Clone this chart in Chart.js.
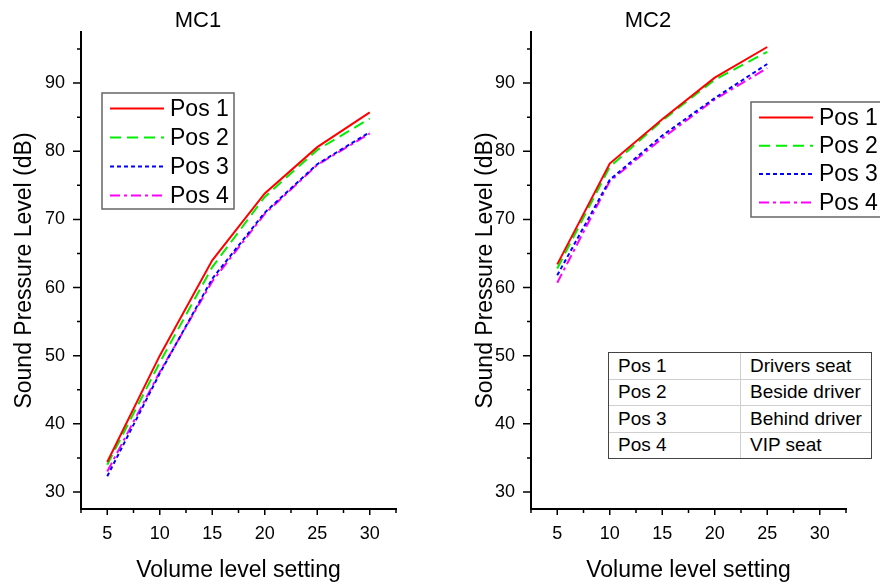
<!DOCTYPE html>
<html>
<head>
<meta charset="utf-8">
<title>Sound pressure level vs volume setting</title>
<script src="https://cdn.jsdelivr.net/npm/chart.js@4.4.1/dist/chart.umd.min.js"></script>
<style>
  body { margin: 0; background: #fff; }
  #wrap { position: relative; width: 880px; height: 584px; overflow: hidden; }
  canvas { position: absolute; top: 0; }
  #mc1 { left: 0; }
  #mc2 { left: 450px; }
  table.key {
    position: absolute; left: 608px; top: 352px; width: 264px;
    border-collapse: separate; border-spacing: 0;
    border: 1px solid #444; background: #fff;
    font-family: "Liberation Sans", Arial, sans-serif; font-size: 19px; color: #000;
  }
  table.key td { height: 25.5px; padding: 0 0 0 9px; border-bottom: 1px solid #cfcfcf; line-height: 20px; }
  table.key tr:last-child td { border-bottom: none; }
  table.key td:first-child { width: 122px; border-right: 1px solid #cfcfcf; }
</style>
</head>
<body>
<div id="wrap">
  <canvas id="mc1" width="440" height="584"></canvas>
  <canvas id="mc2" width="430" height="584"></canvas>
  <table class="key" id="key"></table>
</div>
<script>
// datos
const volumeMC1 = [5, 10, 15, 20, 25, 30];
const volumeMC2 = [5, 10, 15, 20, 25];
const xTicks = [5, 10, 15, 20, 25, 30];
const yTicks = [30, 40, 50, 60, 70, 80, 90];
const seriesNames = ["Pos 1", "Pos 2", "Pos 3", "Pos 4"];
const seatNames = ["Drivers seat", "Beside driver", "Behind driver", "VIP seat"];

const mc1Pos1 = [34.4, 50.0, 64.0, 73.8, 80.6, 85.7];
const mc1Pos2 = [34.0, 49.0, 63.0, 73.3, 80.2, 84.8];
const mc1Pos3 = [32.3, 47.4, 61.3, 71.0, 78.1, 82.8];
const mc1Pos4 = [33.0, 47.6, 60.9, 70.8, 78.0, 82.6];

const mc2Pos1 = [63.4, 78.2, 84.7, 90.8, 95.3];
const mc2Pos2 = [62.8, 77.7, 84.5, 90.5, 94.6];
const mc2Pos3 = [61.8, 75.8, 82.3, 87.8, 92.8];
const mc2Pos4 = [60.7, 75.6, 81.9, 87.6, 92.2];

const colors = ["#ff0000", "#00ee00", "#0000ff", "#ff00ff"];
const dashes = [[], [11, 6], [4, 3], [10, 4, 3, 4]];

const FONT = "'Liberation Sans', Arial, sans-serif";
Chart.defaults.font.family = FONT;
Chart.defaults.color = "#000";

// ticks mayores y menores al estilo Origin (hacia fuera)
const axisTicks = {
  id: "axisTicks",
  afterDraw(chart) {
    const { ctx, chartArea, scales: { x, y } } = chart;
    ctx.save();
    ctx.strokeStyle = "#000";
    ctx.lineWidth = 1.5;
    ctx.beginPath();
    xTicks.forEach(v => {
      const px = x.getPixelForValue(v);
      ctx.moveTo(px, chartArea.bottom); ctx.lineTo(px, chartArea.bottom + 6);
    });
    xTicks.concat([35]).forEach(v => {
      const px = x.getPixelForValue(v - 2.5);
      ctx.moveTo(px, chartArea.bottom); ctx.lineTo(px, chartArea.bottom + 4);
    });
    yTicks.forEach(v => {
      const py = y.getPixelForValue(v);
      ctx.moveTo(chartArea.left, py); ctx.lineTo(chartArea.left - 8, py);
      const pm = y.getPixelForValue(v + 5);
      ctx.moveTo(chartArea.left, pm); ctx.lineTo(chartArea.left - 4, pm);
    });
    ctx.stroke();
    ctx.restore();
  }
};

// leyenda con caja, dibujada dentro del area del grafico
const boxLegend = {
  id: "boxLegend",
  afterDatasetsDraw(chart, args, opts) {
    const ctx = chart.ctx;
    ctx.save();
    ctx.fillStyle = "#fff";
    ctx.fillRect(opts.left, opts.top, opts.width, opts.height);
    ctx.strokeStyle = "#666";
    ctx.lineWidth = 1.5;
    ctx.strokeRect(opts.left, opts.top, opts.width, opts.height);
    chart.data.datasets.forEach((ds, i) => {
      const yy = opts.top + opts.first + i * opts.step;
      ctx.strokeStyle = ds.borderColor;
      ctx.lineWidth = 2;
      ctx.setLineDash(ds.borderDash);
      ctx.beginPath();
      ctx.moveTo(opts.left + 8, yy);
      ctx.lineTo(opts.left + 62, yy);
      ctx.stroke();
      ctx.setLineDash([]);
      ctx.fillStyle = "#000";
      ctx.font = "23px " + FONT;
      ctx.textBaseline = "middle";
      ctx.textAlign = "left";
      ctx.fillText(ds.label, opts.left + 68, yy + 1);
    });
    ctx.restore();
  }
};

function makeDatasets(xs, series) {
  return series.map((vals, i) => ({
    label: seriesNames[i],
    data: xs.map((v, j) => ({ x: v, y: vals[j] })),
    borderColor: colors[i],
    borderDash: dashes[i],
    borderWidth: 2,
    pointRadius: 0,
    fill: false,
    tension: 0
  }));
}

function makeChart(id, title, xs, series, cfg) {
  new Chart(document.getElementById(id), {
    type: "line",
    data: { datasets: makeDatasets(xs, series) },
    plugins: [axisTicks, boxLegend],
    options: {
      responsive: false,
      animation: false,
      devicePixelRatio: 1,
      layout: { padding: { top: 10, right: cfg.padRight, bottom: 0, left: 0 } },
      plugins: {
        legend: { display: false },
        tooltip: { enabled: false },
        title: {
          display: true, text: title, color: "#000", padding: 0,
          font: { size: 22, weight: "normal", lineHeight: 1 }
        },
        boxLegend: cfg.legend
      },
      scales: {
        x: {
          type: "linear", min: 2.5, max: 32.5,
          afterBuildTicks: s => { s.ticks = xTicks.map(v => ({ value: v })); },
          afterFit: s => { s.height = 75; },
          grid: { display: true, drawOnChartArea: false, drawTicks: false },
          border: { display: true, color: "#000", width: 2 },
          ticks: { font: { size: 18 }, padding: 14, color: "#000", maxRotation: 0 },
          title: {
            display: true, text: "Volume level setting", color: "#000",
            font: { size: 23 }, padding: { top: 0, bottom: 0 }
          }
        },
        y: {
          min: 27.5, max: 97.5,
          afterBuildTicks: s => { s.ticks = yTicks.map(v => ({ value: v })); },
          afterFit: s => { s.width = 81; },
          grid: { display: true, drawOnChartArea: false, drawTicks: false },
          border: { display: true, color: "#000", width: 2 },
          ticks: { font: { size: 18 }, padding: 16, color: "#000" },
          title: {
            display: true, text: "Sound Pressure Level (dB)", color: "#000",
            font: { size: 23 }, padding: { top: cfg.yTitlePad, bottom: 0 }
          }
        }
      }
    }
  });
}

makeChart("mc1", "MC1", volumeMC1, [mc1Pos1, mc1Pos2, mc1Pos3, mc1Pos4], {
  padRight: 44,
  yTitlePad: 11,
  legend: { left: 102, top: 93, width: 132, height: 116, first: 15.5, step: 29 }
});

makeChart("mc2", "MC2", volumeMC2, [mc2Pos1, mc2Pos2, mc2Pos3, mc2Pos4], {
  padRight: 34,
  yTitlePad: 22,
  legend: { left: 301, top: 102, width: 200, height: 115, first: 15.5, step: 28.3 }
});

// tabla de posiciones
const key = document.getElementById("key");
seriesNames.forEach((name, i) => {
  const tr = document.createElement("tr");
  tr.innerHTML = `<td>${name}</td><td>${seatNames[i]}</td>`;
  key.appendChild(tr);
});
</script>
</body>
</html>
